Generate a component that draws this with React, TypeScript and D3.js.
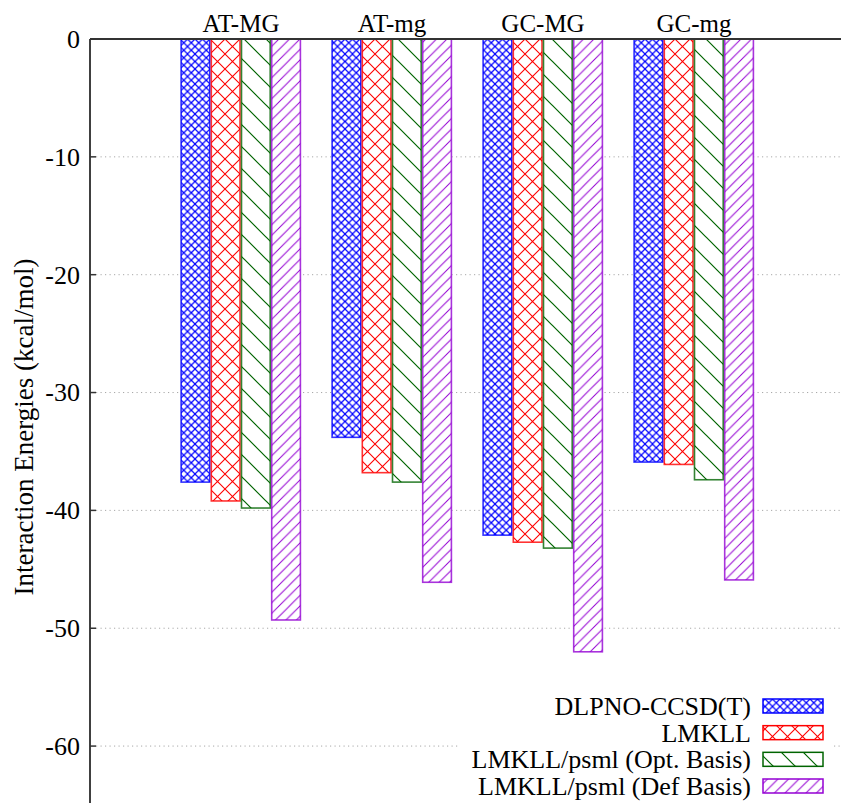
import React, { useEffect, useRef } from 'react';
import * as d3 from 'd3';

const categories = ['AT-MG', 'AT-mg', 'GC-MG', 'GC-mg'];
const seriesNames = [
  'DLPNO-CCSD(T)',
  'LMKLL',
  'LMKLL/psml (Opt. Basis)',
  'LMKLL/psml (Def Basis)',
];
const dlpno = [-37.6, -33.8, -42.1, -35.9];
const lmkll = [-39.2, -36.8, -42.7, -36.1];
const psmlOpt = [-39.8, -37.6, -43.2, -37.4];
const psmlDef = [-49.3, -46.1, -52.0, -45.9];
const yTicks = [0, -10, -20, -30, -40, -50, -60];

const seriesValues = [dlpno, lmkll, psmlOpt, psmlDef];
const colors = ['#0000ff', '#ff0000', '#006400', '#9400d3'];
const patternIds = ['pat-blue', 'pat-red', 'pat-green', 'pat-purple'];

const W = 841;
const H = 803;
const FONT = "'Liberation Serif', 'Times New Roman', Times, serif";

export default function App() {
  const ref = useRef<SVGSVGElement>(null);

  useEffect(() => {
    document.body.style.margin = '0';
    const svg = d3.select(ref.current);
    svg.selectAll('*').remove();

    const left = 90;
    const top = 39;
    const x = d3.scaleLinear().domain([-1, 4]).range([left, 845]);
    const y = d3.scaleLinear().domain([-65, 0]).range([805, top]);

    // fill patterns
    const defs = svg.append('defs');
    const pats = [
      { size: 7.5, d: 'M0,0L7.5,7.5M7.5,0L0,7.5', w: 1.2 },
      { size: 15, d: 'M0,0L15,15M15,0L0,15', w: 1.1 },
      { size: 22, d: 'M0,0L22,22M-11,11L11,33M11,-11L33,11', w: 1.2 },
      { size: 10.5, d: 'M0,10.5L10.5,0M-2,2L2,-2M8.5,12.5L12.5,8.5', w: 1 },
    ];
    pats.forEach((p, i) => {
      const pat = defs.append('pattern')
        .attr('id', patternIds[i])
        .attr('patternUnits', 'userSpaceOnUse')
        .attr('width', p.size)
        .attr('height', p.size)
        .attr('x', left)
        .attr('y', top);
      pat.append('rect').attr('width', p.size).attr('height', p.size).attr('fill', 'white');
      pat.append('path')
        .attr('d', p.d)
        .attr('stroke', colors[i])
        .attr('stroke-width', p.w)
        .attr('fill', 'none');
    });

    // grid
    svg.append('g')
      .selectAll('line')
      .data(yTicks.filter(t => t !== 0))
      .join('line')
        .attr('x1', left + 6)
        .attr('x2', W)
        .attr('y1', d => y(d))
        .attr('y2', d => y(d))
        .attr('stroke', '#a8a8a8')
        .attr('stroke-width', 1)
        .attr('stroke-dasharray', '1.2,3.3');

    // bars
    const bw = x(0.2) - x(0);
    seriesValues.forEach((vals, j) => {
      svg.append('g')
        .selectAll('rect')
        .data(vals)
        .join('rect')
          .attr('x', (d, i) => x(i - 0.4 + j * 0.2) + 0.5)
          .attr('y', y(0))
          .attr('width', bw - 1.5)
          .attr('height', d => y(d) - y(0))
          .attr('fill', `url(#${patternIds[j]})`)
          .attr('stroke', colors[j])
          .attr('stroke-opacity', 0.8)
          .attr('stroke-width', 1.6);
    });

    // axes
    svg.append('line')
      .attr('x1', left).attr('x2', W)
      .attr('y1', top).attr('y2', top)
      .attr('stroke', '#333').attr('stroke-width', 2);
    svg.append('line')
      .attr('x1', left).attr('x2', left)
      .attr('y1', top).attr('y2', H)
      .attr('stroke', '#404040').attr('stroke-width', 2);

    const g = svg.append('g').style('font-family', FONT).attr('fill', '#000');

    const yAxis = g.append('g');
    yAxis.selectAll('line')
      .data(yTicks)
      .join('line')
        .attr('x1', left)
        .attr('x2', left + 6)
        .attr('y1', d => y(d))
        .attr('y2', d => y(d))
        .attr('stroke', '#333')
        .attr('stroke-width', 1.5);
    yAxis.selectAll('text')
      .data(yTicks)
      .join('text')
        .attr('x', left - 10)
        .attr('y', d => y(d))
        .attr('dy', '0.34em')
        .attr('text-anchor', 'end')
        .attr('font-size', 26)
        .text(d => d);

    // category labels
    g.append('g')
      .selectAll('text')
      .data(categories)
      .join('text')
        .attr('x', (d, i) => x(i))
        .attr('y', 32)
        .attr('text-anchor', 'middle')
        .attr('font-size', 25)
        .text(d => d);

    // y label
    g.append('text')
      .attr('transform', `translate(33,427) rotate(-90)`)
      .attr('text-anchor', 'middle')
      .attr('font-size', 27)
      .text('Interaction Energies (kcal/mol)');

    // legend
    const key = g.append('g');
    key.append('rect')
      .attr('x', 460).attr('y', 690)
      .attr('width', 374).attr('height', H - 690)
      .attr('fill', 'white');
    const rowY = d3.scaleLinear().domain([0, 3]).range([706, 786]);
    seriesNames.forEach((name, j) => {
      key.append('text')
        .attr('x', 751)
        .attr('y', rowY(j))
        .attr('dy', '0.34em')
        .attr('text-anchor', 'end')
        .attr('font-size', 26)
        .text(name);
      key.append('rect')
        .attr('x', 763)
        .attr('y', rowY(j) - 7)
        .attr('width', 60)
        .attr('height', 14)
        .attr('fill', `url(#${patternIds[j]})`)
        .attr('stroke', colors[j])
        .attr('stroke-width', 1.5);
    });
  }, []);

  return <svg ref={ref} width={W} height={H} style={{ display: 'block', background: 'white' }} />;
}
